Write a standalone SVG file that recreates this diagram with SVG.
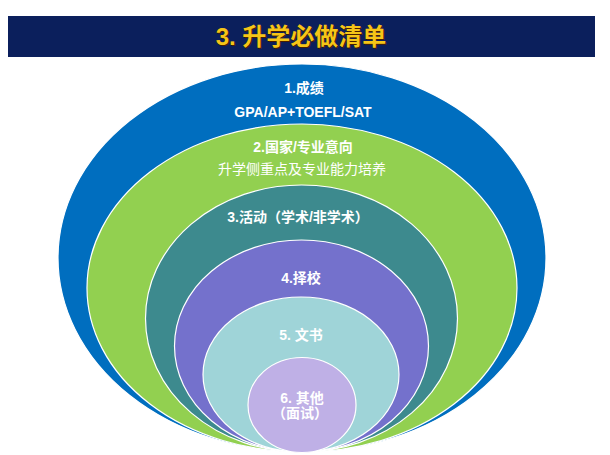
<svg xmlns="http://www.w3.org/2000/svg" width="610" height="455" viewBox="0 0 610 455">
<style>
.ring{stroke:#ffffff;stroke-width:1.2}
.t{font-family:"Liberation Sans","Noto Sans CJK SC",sans-serif;fill:#ffffff;text-anchor:middle;font-weight:bold;font-size:14px}
.r{font-weight:normal}
.title{font-family:"Liberation Sans","Noto Sans CJK SC",sans-serif;font-weight:bold;font-size:24px;text-anchor:middle}
</style>
<rect width="610" height="455" fill="#ffffff"/>
<g id="title">
<rect x="8" y="16" width="587" height="41" fill="#0b1f5c"/>
<text class="title" x="302" y="46" fill="#4a1f00">3. 升学必做清单</text>
<text class="title" x="301" y="45" fill="#f5c518">3. 升学必做清单</text>
</g>
<g id="n1">
<ellipse class="ring" cx="302" cy="258" rx="244" ry="194" fill="#006ebf"/>
<text class="t" x="304" y="93">1.成绩</text>
<text class="t" x="303" y="117">GPA/AP+TOEFL/SAT</text>
</g>
<g id="n2">
<ellipse class="ring" cx="302" cy="288" rx="215" ry="164" fill="#92d050"/>
<text class="t" x="303" y="152">2.国家/专业意向</text>
<text class="t r" x="302" y="174">升学侧重点及专业能力培养</text>
</g>
<g id="n3">
<ellipse class="ring" cx="301.5" cy="318.5" rx="156" ry="133.5" fill="#3d8a8e"/>
<text class="t" x="298" y="222">3.活动（学术/非学术）</text>
</g>
<g id="n4">
<ellipse class="ring" cx="301.5" cy="346" rx="127" ry="106" fill="#7471cc"/>
<text class="t" x="301" y="283">4.择校</text>
</g>
<g id="n5">
<ellipse class="ring" cx="301" cy="374.5" rx="98" ry="77.5" fill="#9fd4d8"/>
<text class="t" x="301" y="340">5. 文书</text>
</g>
<g id="n6">
<ellipse class="ring" cx="302" cy="405" rx="54" ry="47.5" fill="#bfb0e6"/>
<text class="t" x="302" y="403">6. 其他</text>
<text class="t" x="300" y="418">（面试）</text>
</g>
</svg>
